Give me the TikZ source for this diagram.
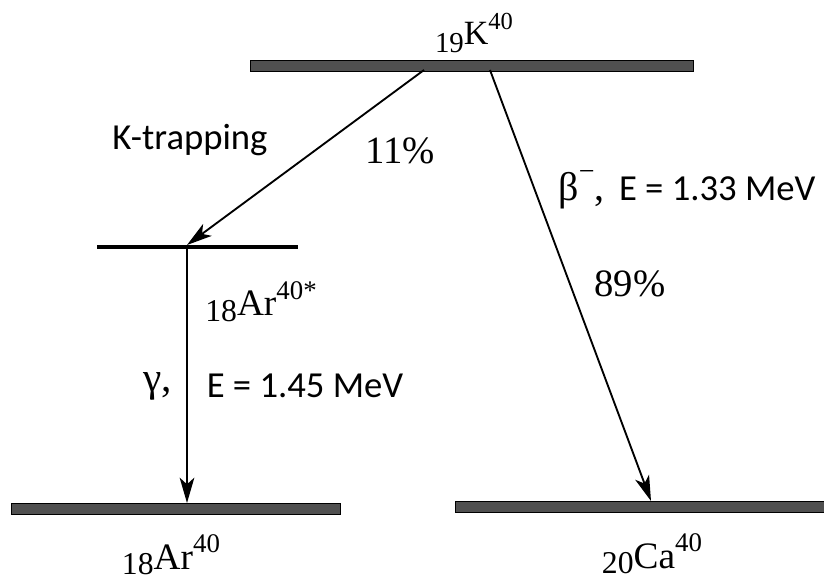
\documentclass[tikz,border=0pt]{standalone}
\usepackage{fontspec}
\setmainfont{Liberation Serif}
\newfontfamily\calibfont{Carlito}
\usetikzlibrary{arrows.meta}
\newcommand{\nuclide}[4][0.15em]{\raisebox{-#1}{\scalebox{0.85}{#2}}#3\raisebox{0.45em}{\scalebox{0.72}{#4}}}

\tikzset{every picture/.style={line width=0.75pt}}
\tikzset{
  level/.style={draw=black, fill={rgb, 255:red, 80; green, 80; blue, 80}, line width=0.75pt, inner sep=0pt, minimum height=8pt},
  sublevel/.style={fill=black, inner sep=0pt, minimum height=2.8pt},
  decay/.style={line width=1.4pt, -{Stealth[length=19pt, width=11pt, inset=5pt]}},
  nuc/.style={inner sep=0.75pt, anchor=base, font=\fontsize{28}{30}\selectfont},
  perc/.style={inner sep=0.75pt, font=\fontsize{29}{31}\selectfont},
  note/.style={inner sep=0.75pt, font=\calibfont\fontsize{27.5}{30}\selectfont}
}

\begin{document}
\begin{tikzpicture}[x=0.75pt,y=0.75pt,yscale=-1,xscale=1]
\useasboundingbox (0,0) rectangle (824,580);

%Shape: Levels
\node [level, minimum width=332.25pt] (k40) at (471.5,66) {};
\node [sublevel, minimum width=150.75pt] (arex) at (197.5,247) {};
\node [level, minimum width=246.75pt] (ar40) at (175.5,509) {};
\node [level, minimum width=277.5pt] (ca40) at (640,507) {};

%Arrow ends
\coordinate (kL) at (424,70);
\coordinate (kR) at (490,70);
\coordinate (arexIn) at (187,245);
\coordinate (arexOut) at (187,248);
\coordinate (arIn) at (187,503);
\coordinate (caIn) at (651,501);

%Straight Lines
\draw [decay] (kL) -- (arexIn);
%Straight Lines
\draw [decay] (arexOut) -- (arIn);
%Straight Lines
\draw [decay] (kR) -- (caIn);

% Text Node
\node [nuc, font=\fontsize{25.5}{27}\selectfont] (kLabel) at (474,45) {\nuclide[0.22em]{19}{K}{40}};
% Text Node
\node [nuc] (arexLabel) at (261,316) {\nuclide{18}{Ar}{40*}};
% Text Node
\node [nuc] (arLabel) at (171,569) {\nuclide{18}{Ar}{40}};
% Text Node
\node [nuc] (caLabel) at (652,568) {\nuclide{20}{Ca}{40}};
% Text Node
\node [note] (trap) at (190,140) {K-trapping};
% Text Node
\node [perc] (pK) at (400,151) {11\%};
% Text Node
\node [perc] (pB) at (630,284) {89\%};
% Text Node
\node [note, anchor=west] (beta) at (557,190) {{\rmfamily\fontsize{30}{32}\selectfont β\raisebox{0.5em}{\scalebox{0.7}{−}},}\, E = 1.33 MeV};
% Text Node
\node [perc, font=\fontsize{31}{33}\selectfont] (gam) at (158,386) {γ,};
% Text Node
\node [note] (eGam) at (305,386) {E = 1.45 MeV};

\end{tikzpicture}
\end{document}
